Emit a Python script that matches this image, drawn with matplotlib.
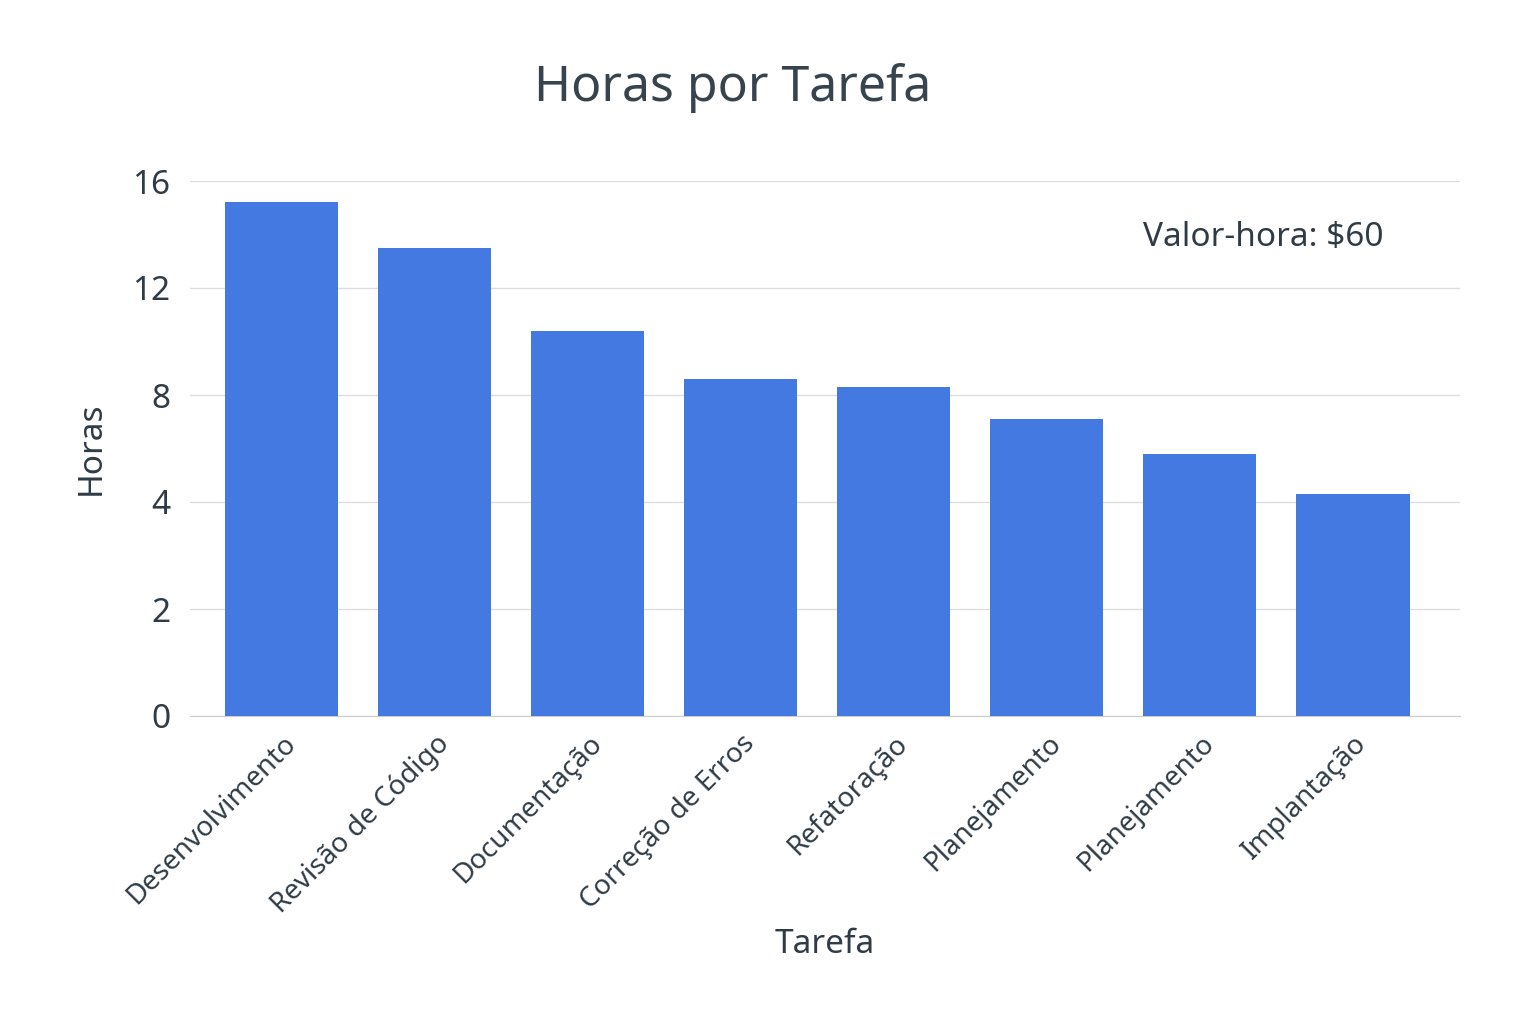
import numpy as np
import matplotlib.pyplot as plt

tarefas = ["Desenvolvimento", "Revisão de Código", "Documentação", "Correção de Erros",
           "Refatoração", "Planejamento", "Planejamento", "Implantação"]
horas = [15.2, 13.5, 10.4, 8.6, 8.3, 7.1, 5.8, 4.3]
ticks = [0, 2, 4, 8, 12, 16]

plt.rcParams["font.family"] = "Noto Sans"
txt = "#2f3b45"

# eixo y com marcas igualmente espaçadas mas valores não lineares
pos = np.arange(len(ticks))
def fwd(v):
    return np.interp(v, ticks, pos)
def inv(p):
    return np.interp(p, pos, ticks)

fig = plt.figure(figsize=(15.36, 10.24), dpi=100)
ax = fig.add_axes([190/1536, 1 - 716/1024, 1270/1536, 535/1024])
ax.set_yscale("function", functions=(fwd, inv))
x = np.arange(len(tarefas))
ax.bar(x, horas, width=0.74, color="#4479e1", zorder=3)
ax.set_ylim(0, 16)
ax.set_xlim(-0.6, 7.7)
ax.set_yticks(ticks)
ax.set_yticklabels([str(t) for t in ticks])
ax.yaxis.set_minor_locator(plt.NullLocator())
ax.set_xticks(x)
ax.set_xticklabels(tarefas, rotation=45, ha="right", rotation_mode="anchor")
ax.tick_params(axis="y", labelsize=24, length=0, pad=14, colors=txt)
ax.tick_params(axis="x", labelsize=20, length=0, pad=10, colors=txt)
ax.grid(axis="y", color="#dddddd", lw=1, zorder=0)
for s in ["top", "right", "left"]:
    ax.spines[s].set_visible(False)
ax.spines["bottom"].set_color("#cccccc")
ax.set_ylabel("Horas", fontsize=24, color=txt, labelpad=18)
ax.set_xlabel("Tarefa", fontsize=24, color=txt, labelpad=6)
ax.text(0.94, 0.895, r"Valor-hora: \$60", transform=ax.transAxes, ha="right", va="center",
        fontsize=24, color=txt)
fig.text(0.477, 0.914, "Horas por Tarefa", ha="center", va="center", fontsize=36,
         fontweight="bold", color="#37444e")
fig.savefig("out.png", dpi=100, facecolor="white")
